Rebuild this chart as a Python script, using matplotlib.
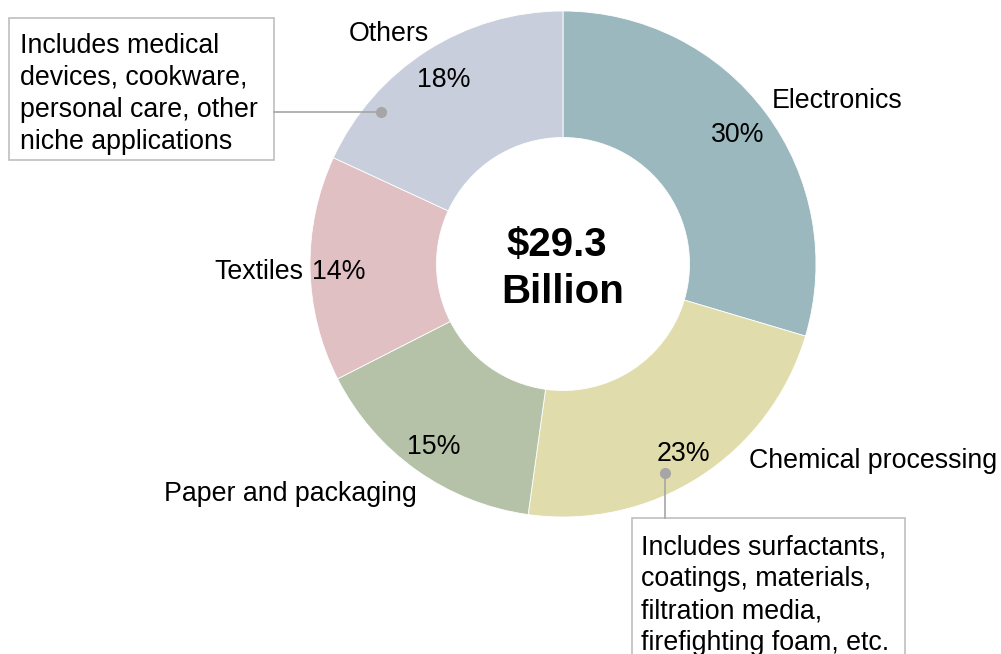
import matplotlib
matplotlib.use("Agg")
import matplotlib.pyplot as plt
from matplotlib.patches import Rectangle

plt.rcParams['font.family'] = ['Liberation Sans', 'DejaVu Sans']

categories = ["Electronics", "Chemical processing", "Paper and packaging", "Textiles", "Others"]
shares = [29.6, 22.6, 15.3, 14.4, 18.1]
colors = ["#9bb8bf", "#e0dcab", "#b5c2a8", "#e0c0c3", "#c8cedb"]
center_lines = ["$29.3", "Billion"]
note_others = ["Includes medical", "devices, cookware,", "personal care, other", "niche applications"]
note_chem = ["Includes surfactants,", "coatings, materials,", "filtration media,", "firefighting foam, etc."]

W, H = 1001, 654
fig = plt.figure(figsize=(W / 100, H / 100), dpi=100)
ax = fig.add_axes([0, 0, 1, 1])

def Y(y):
    return H - y

cx, cy, R = 563, 264, 253
ax.pie(shares, colors=colors, startangle=90, counterclock=False,
       center=(cx, Y(cy)), radius=R, frame=True,
       wedgeprops=dict(width=R * 0.5, edgecolor='white', linewidth=0.6))
ax.set_xlim(0, W)
ax.set_ylim(0, H)
ax.set_aspect('equal')
ax.axis('off')

fs = 19.3
d = 2  # vertical tweak
# category labels
ax.text(772, Y(99 + d), "Electronics", fontsize=fs, ha='left', va='center')
ax.text(749, Y(459 + d), "Chemical processing", fontsize=fs, ha='left', va='center')
ax.text(290, Y(492 + d), "Paper and packaging", fontsize=fs, ha='center', va='center')
ax.text(303, Y(270 + d), "Textiles", fontsize=fs, ha='right', va='center')
ax.text(389, Y(32 + d), "Others", fontsize=fs, ha='center', va='center')
# percentage labels
pct_pos = [(738, 133), (683, 452), (434, 445), (339, 270), (444, 78)]
for s, (px, py) in zip(shares, pct_pos):
    ax.text(px, Y(py + d), f"{round(s)}%", fontsize=fs, ha='center', va='center')

# center text
ax.text(557, Y(243 + d), center_lines[0], fontsize=29, fontweight='bold', ha='center', va='center')
ax.text(563, Y(290 + d), center_lines[1], fontsize=29, fontweight='bold', ha='center', va='center')

# note boxes
grey = '#bfbfbf'
ax.add_patch(Rectangle((9, Y(160)), 265, 142, fill=False, edgecolor=grey, linewidth=1.2))
for i, line in enumerate(note_others):
    ax.text(20, Y(44 + d + 32 * i), line, fontsize=fs, ha='left', va='center')
ax.plot([274, 381], [Y(112), Y(112)], color='#a6a6a6', linewidth=1.2)
ax.plot([381], [Y(112)], 'o', color='#a6a6a6', markersize=7)

ax.add_patch(Rectangle((632, Y(680)), 273, 162, fill=False, edgecolor=grey, linewidth=1.2))
for i, line in enumerate(note_chem):
    ax.text(641, Y(545 + d + 32 * i), line, fontsize=fs, ha='left', va='center')
ax.plot([665, 665], [Y(473), Y(518)], color='#a6a6a6', linewidth=1.2)
ax.plot([665], [Y(473)], 'o', color='#a6a6a6', markersize=7)

fig.savefig("out.png", dpi=100)
